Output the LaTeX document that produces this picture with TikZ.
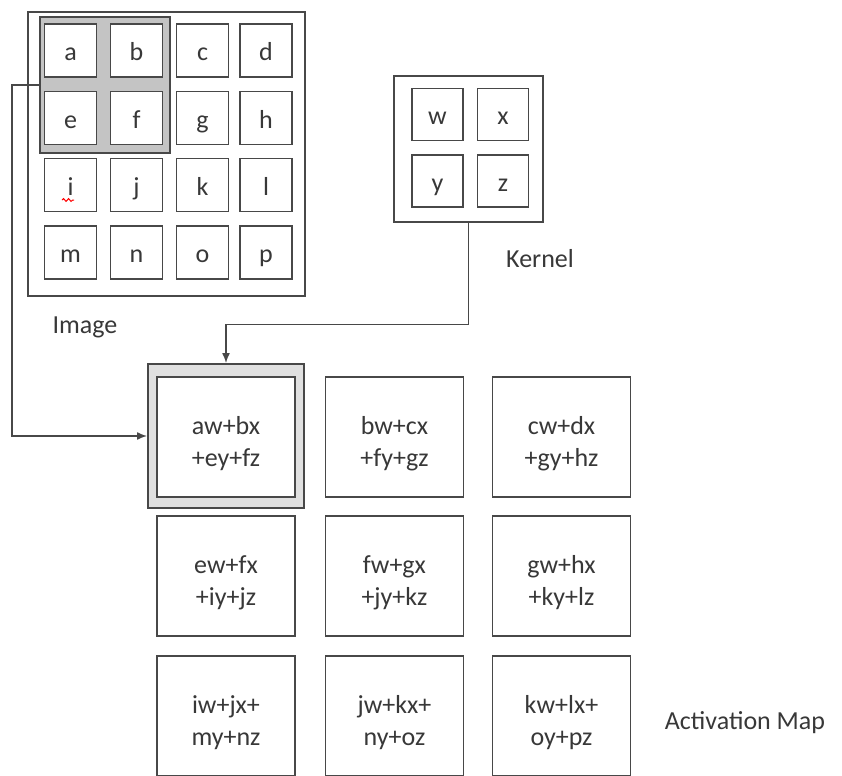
\documentclass[tikz,border=0pt]{standalone}
\usepackage{fontspec}
\setmainfont{Carlito}
\usetikzlibrary{arrows.meta,decorations.pathmorphing}
\definecolor{linegray}{HTML}{484848}
\definecolor{txtgray}{HTML}{383838}
\definecolor{imghlgray}{HTML}{C4C4C4}
\definecolor{acthlgray}{HTML}{E0E0E0}
\begin{document}
\begin{tikzpicture}[x=0.5pt,y=-0.5pt,
  font=\fontsize{13}{16}\selectfont, text=txtgray,
  >={Latex[length=5pt,width=4pt]},
  frame/.style={draw=linegray, line width=0.7pt, inner sep=0pt},
  cell/.style={draw=linegray, fill=white, line width=0.7pt, inner sep=0pt, text height=10pt, text depth=0pt, minimum width=26pt, minimum height=26.5pt},
  outbox/.style={draw=linegray, fill=white, line width=0.7pt, inner sep=0pt, align=center, text height=29pt, text depth=0pt, minimum width=69pt, minimum height=60pt},
  hlbox/.style={draw=linegray, line width=1pt, inner sep=0pt}]
\useasboundingbox (0,0) rectangle (842,776);

% image and its 2x2 window
\node(img) at (166.5,154) [frame, minimum width=138.5pt, minimum height=142pt]{};
\node(imghl) at (105,85) [hlbox, fill=imghlgray, minimum width=65pt, minimum height=68pt]{};
\node(a) at (70.5,50.5) [cell]{a};
\node(b) at (136.5,50.5) [cell]{b};
\node(c) at (202.5,50.5) [cell]{c};
\node(d) at (266,50.5) [cell]{d};
\node(e) at (70.5,118) [cell]{e};
\node(f) at (136.5,118) [cell]{f};
\node(g) at (202.5,118) [cell]{g};
\node(h) at (266,118) [cell]{h};
\node(i) at (70.5,185) [cell]{i};
\node(j) at (136.5,185) [cell]{j};
\node(k) at (202.5,185) [cell]{k};
\node(l) at (266,185) [cell]{l};
\node(m) at (70.5,252.5) [cell]{m};
\node(n) at (136.5,252.5) [cell]{n};
\node(o) at (202.5,252.5) [cell]{o};
\node(p) at (266,252.5) [cell]{p};
\draw[red, line width=0.5pt, decorate, decoration={snake, amplitude=0.7pt, segment length=2.5pt}] (62,200) -- (74,200);
\node(imglabel) at (85,327) {Image};

% kernel
\node(kernel) at (468.5,149) [frame, minimum width=74.5pt, minimum height=73pt]{};
\node(w) at (437.5,114.5) [cell, minimum width=25.5pt, minimum height=26pt]{w};
\node(x) at (503,114.5) [cell, minimum width=25.5pt, minimum height=26pt]{x};
\node(y) at (437.5,181) [cell, minimum width=25.5pt, minimum height=26pt]{y};
\node(z) at (503,181) [cell, minimum width=25.5pt, minimum height=26pt]{z};
\node(kernlabel) at (540,259) {Kernel};

% activation map
\node(acthl) at (226,436) [hlbox, fill=acthlgray, minimum width=78pt, minimum height=72pt]{};
\node(act11) at (226,437) [outbox]{aw+bx\\+ey+fz};
\node(act12) at (394.5,437) [outbox]{bw+cx\\+fy+gz};
\node(act13) at (561.5,437) [outbox]{cw+dx\\+gy+hz};
\node(act21) at (226,576) [outbox]{ew+fx\\+iy+jz};
\node(act22) at (394.5,576) [outbox]{fw+gx\\+jy+kz};
\node(act23) at (561.5,576) [outbox]{gw+hx\\+ky+lz};
\node(act31) at (226,716) [outbox]{iw+jx+\\my+nz};
\node(act32) at (394.5,716) [outbox]{jw+kx+\\ny+oz};
\node(act33) at (561.5,716) [outbox]{kw+lx+\\oy+pz};
\node(actlabel) at (745,723) {Activation Map};

\draw [->, draw=linegray, line width=0.7pt] (imghl.west) -- ++(-27,0) |- (acthl.west);
\draw [->, draw=linegray, line width=0.7pt] (kernel.south) -- ++(0,102) -| (acthl.north);

\end{tikzpicture}
\end{document}
